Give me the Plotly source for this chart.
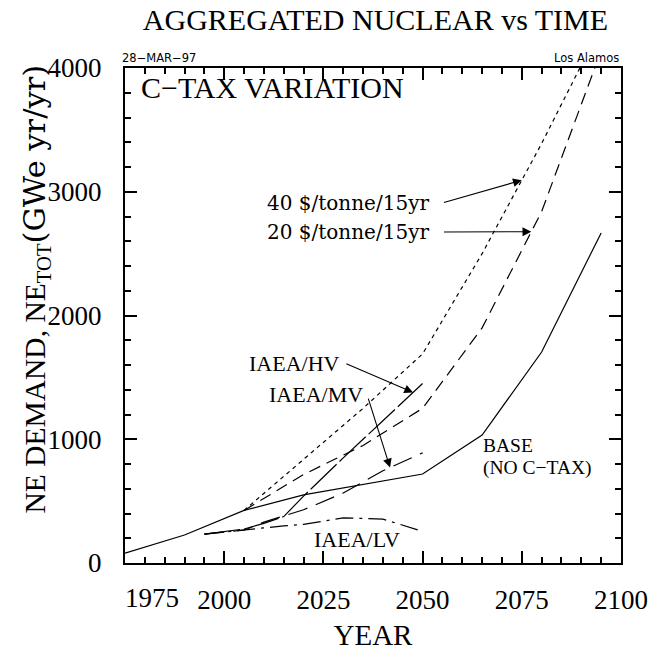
import numpy as np
import plotly.graph_objects as go

# Base case (no carbon tax)
base_years = [1975, 1990, 2005, 2020, 2050, 2065, 2080, 2095]
base_ne = [80, 226, 425, 550, 719, 1034, 1705, 2667]

# Carbon-tax variations (branch off the base case at 2005)
ctax_years = [2005, 2020, 2035, 2050, 2065, 2080, 2095]
tax40_ne = [425, 840, 1250, 1690, 2500, 3390, 4340]
tax20_ne = [425, 715, 950, 1250, 1900, 2840, 4140]

# IAEA projections
iaea_years = [1995, 2005, 2010, 2015, 2020, 2030, 2040, 2050]
iaea_hv = [234, 275, 320, 375, 540, 850, 1150, 1450]
iaea_mv = [234, 265, 330, 380, 430, 565, 745, 890]
iaea_lv = [234, 268, 285, 300, 312, 365, 355, 255]

x_ticks = [2000, 2025, 2050, 2075, 2100]
x_ticktext = ["2000", "2025", "2050", "2075", "2100"]
y_ticks = [0, 1000, 2000, 3000, 4000]

SERIF = "Liberation Serif"
WIDE_SERIF = "DejaVu Serif"
SANS = "DejaVu Sans"
LW = 1.2

fig = go.Figure()


def add_line(xs, ys, dash):
    fig.add_trace(go.Scatter(x=xs, y=ys, mode="lines",
                             line=dict(color="black", width=LW, dash=dash),
                             showlegend=False, hoverinfo="skip"))


add_line(base_years, base_ne, "solid")
add_line(ctax_years, tax40_ne, "4px,4px")
add_line(ctax_years, tax20_ne, "12px,7px")
add_line(iaea_years, iaea_hv, "36px,4px")
add_line(iaea_years, iaea_mv, "20px,9px")
add_line(iaea_years, iaea_lv, "18px,6px,3px,6px")

ann = []


def label(x, y, text, anchor="center", size=20, family=SERIF):
    ann.append(dict(x=x, y=y, xref="x", yref="y", text=text, showarrow=False,
                    xanchor=anchor, yanchor="middle", align="left",
                    font=dict(family=family, size=size, color="black")))


def arrow(x0, y0, x1, y1):
    ann.append(dict(x=x1, y=y1, ax=x0, ay=y0, xref="x", yref="y",
                    axref="x", ayref="y", text="", showarrow=True,
                    arrowhead=2, arrowsize=1.6, arrowwidth=1.1,
                    arrowcolor="black", standoff=0, startstandoff=0))


# Carbon-tax labels and pointers
label(2052, 2910, "40 $/tonne/15yr", "right", 20, WIDE_SERIF)
arrow(2055, 2910, 2075, float(np.interp(2075, ctax_years, tax40_ne)))
label(2052, 2675, "20 $/tonne/15yr", "right", 20, WIDE_SERIF)
arrow(2055, 2675, 2077.4, float(np.interp(2077.4, ctax_years, tax20_ne)))

# IAEA labels and pointers
label(2029.8, 1616, "IAEA/HV", "right", 22)
arrow(2030.4, 1616, 2047.6, float(np.interp(2047.6, iaea_years, iaea_hv)))
label(2035.6, 1358, "IAEA/MV", "right", 22)
arrow(2036.2, 1341, 2041.8, float(np.interp(2041.8, iaea_years, iaea_mv)))
label(2033.5, 186, "IAEA/LV", "center", 22)

label(2064.6, 950, "BASE", "left", 19.5)
label(2064.6, 770, "(NO C−TAX)", "left", 19.5)

# Panel heading inside the frame
label(1978.5, 3840, "C−TAX VARIATION", "left", 30)

# Leftmost year label sits inside the frame edge
ann.append(dict(x=1975, y=0, xref="x", yref="paper", text="1975",
                showarrow=False, xanchor="left", yanchor="middle", yshift=-35,
                xshift=-2, font=dict(family=SERIF, size=27, color="black")))

# Header notes above the frame
ann.append(dict(x=0, y=1, xref="paper", yref="paper", text="28−MAR−97",
                showarrow=False, xanchor="left", yanchor="bottom", xshift=-5,
                yshift=1, font=dict(family=SANS, size=11.5, color="black")))
ann.append(dict(x=1, y=1, xref="paper", yref="paper", text="Los Alamos",
                showarrow=False, xanchor="right", yanchor="bottom",
                yshift=1, font=dict(family=SANS, size=11.5, color="black")))

# Y-axis title
ann.append(dict(x=0, y=0.5, xref="paper", yref="paper",
                text=("NE DEMAND, NE<sub>TOT</sub>"
                      "<span style=\"font-family:'DejaVu Serif';font-size:30.5px\">"
                      "(GWe yr/yr)</span>"),
                textangle=-90, showarrow=False, xanchor="center",
                yanchor="middle", xshift=-90, yshift=26,
                font=dict(family=SERIF, size=29.5, color="black")))

axis_common = dict(
    ticks="inside", ticklen=12, tickwidth=1.5, tickcolor="black",
    showline=True, linewidth=2, linecolor="black", mirror="ticks",
    showgrid=False, zeroline=False, automargin=False,
    ticklabeloverflow="allow",
    tickfont=dict(family=SERIF, size=27, color="black"),
)

fig.update_layout(
    width=648, height=651,
    margin=dict(l=125, r=27, t=68, b=88, autoexpand=False),
    paper_bgcolor="white", plot_bgcolor="white",
    title=dict(text="AGGREGATED NUCLEAR vs TIME", x=0.505, xref="paper",
               y=1 - 19 / 651, yref="container", xanchor="center",
               yanchor="middle", automargin=False,
               font=dict(family=SERIF, size=30, color="black")),
    xaxis=dict(range=[1975, 2100], tickmode="array", tickvals=x_ticks,
               ticktext=x_ticktext, ticklabelstandoff=12,
               minor=dict(ticks="inside", tick0=1975, dtick=5, ticklen=6,
                          tickwidth=1.5, tickcolor="black", showgrid=False),
               title=dict(text="YEAR", standoff=14,
                          font=dict(family=SERIF, size=29, color="black")),
               **axis_common),
    yaxis=dict(range=[0, 4000], tickmode="array", tickvals=y_ticks,
               ticklabelstandoff=16,
               minor=dict(ticks="inside", tick0=0, dtick=200, ticklen=6,
                          tickwidth=1.5, tickcolor="black", showgrid=False),
               **axis_common),
    annotations=ann,
)

fig.write_html("out.html")
